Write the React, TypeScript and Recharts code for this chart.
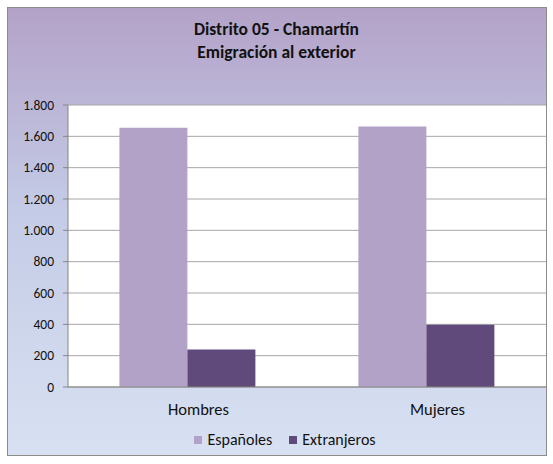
import { Bar, BarChart, CartesianGrid, Legend, XAxis, YAxis } from "recharts";

const categorias = ["Hombres", "Mujeres"];
const espanoles = [1655, 1662];
const extranjeros = [240, 398];
const yTicks = [0, 200, 400, 600, 800, 1000, 1200, 1400, 1600, 1800];

const data = categorias.map((c, i) => ({
  sexo: c,
  esp: espanoles[i],
  ext: extranjeros[i],
}));

const font = "Carlito, Calibri, Lato, sans-serif";
const fmt = (v: number) => String(v).replace(/^(\d)(\d{3})$/, "$1.$2");

function LegendBox({ payload }: any) {
  return (
    <div style={{ display: "flex", justifyContent: "center", gap: 17, fontSize: 16, fontFamily: font, color: "#111" }}>
      {(payload || []).map((p: any) => (
        <span key={p.value} style={{ display: "flex", alignItems: "center" }}>
          <span style={{ width: 8, height: 8, background: p.color, marginRight: 5, display: "inline-block" }} />
          {p.value}
        </span>
      ))}
    </div>
  );
}

export default function App() {
  return (
    <div style={{ position: "absolute", left: 0, top: 0, width: 553, height: 464, background: "#fff", fontFamily: font }}>
      <div
        style={{
          position: "absolute",
          left: 7,
          top: 7,
          width: 538,
          height: 447,
          border: "1px solid #8c8c8c",
          background: "linear-gradient(to bottom, #b3a2c8 0%, #c4cbe6 45%, #d8e1f2 100%)",
        }}
      />
      <div
        style={{
          position: "absolute",
          left: 0,
          top: 18,
          width: 553,
          textAlign: "center",
          fontWeight: "bold",
          fontSize: 17.5,
          lineHeight: "23px",
          color: "#111",
        }}
      >
        Distrito 05 - Chamartín
        <br />
        Emigración al exterior
      </div>
      <div style={{ position: "absolute", left: 0, top: 0 }}>
        <BarChart
          width={553}
          height={464}
          data={data}
          margin={{ top: 105, right: 7, left: 8, bottom: 28 }}
          barCategoryGap="21.5%"
          barGap={0}
        >
          <CartesianGrid vertical={false} stroke="#a6a6a6" fill="#fff" />
          <XAxis
            dataKey="sexo"
            tick={{ fontSize: 16.5, fill: "#111", fontFamily: font, dx: 11 }}
            tickLine={false}
            axisLine={{ stroke: "#868686" }}
            tickMargin={10}
          />
          <YAxis
            width={60}
            domain={[0, 1800]}
            ticks={yTicks}
            tickFormatter={fmt}
            tick={{ fontSize: 13.5, fill: "#111", fontFamily: font }}
            tickLine={{ stroke: "#868686" }}
            tickSize={5}
            tickMargin={9}
            axisLine={{ stroke: "#868686" }}
          />
          <Legend
            verticalAlign="bottom"
            content={<LegendBox />}
            wrapperStyle={{ bottom: 15, left: 16 }}
          />
          <Bar dataKey="esp" name="Españoles" fill="#b3a2c7" isAnimationActive={false} />
          <Bar dataKey="ext" name="Extranjeros" fill="#604a7b" isAnimationActive={false} />
        </BarChart>
      </div>
    </div>
  );
}
